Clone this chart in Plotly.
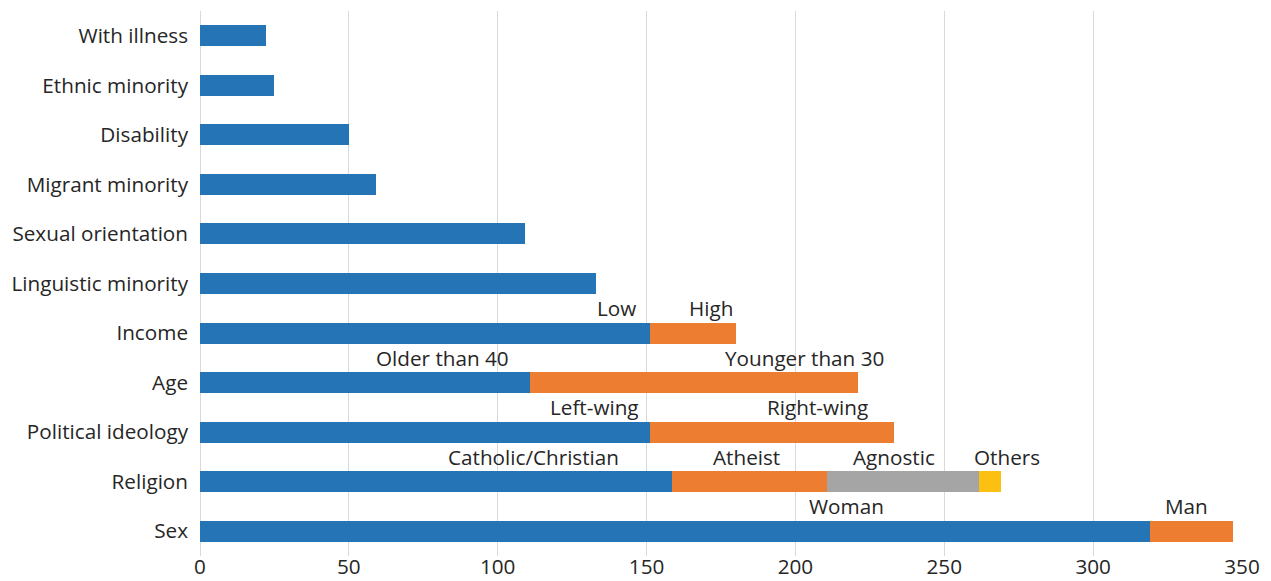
import plotly.graph_objects as go

categories = ["With illness", "Ethnic minority", "Disability", "Migrant minority",
              "Sexual orientation", "Linguistic minority", "Income", "Age",
              "Political ideology", "Religion", "Sex"]

seg1 = [22, 25, 50, 59, 109, 133, 151, 111, 151, 158.5, 319]
seg2 = [0, 0, 0, 0, 0, 0, 29, 110, 82, 52, 28]
seg3 = [0, 0, 0, 0, 0, 0, 0, 0, 0, 51, 0]
seg4 = [0, 0, 0, 0, 0, 0, 0, 0, 0, 7.5, 0]

x_ticks = [0, 50, 100, 150, 200, 250, 300, 350]

seg_labels = [
    ("Income", "Low", 140),
    ("Income", "High", 171.5),
    ("Age", "Older than 40", 81.5),
    ("Age", "Younger than 30", 203),
    ("Political ideology", "Left-wing", 132.5),
    ("Political ideology", "Right-wing", 207.5),
    ("Religion", "Catholic/Christian", 112),
    ("Religion", "Atheist", 183.5),
    ("Religion", "Agnostic", 233),
    ("Religion", "Others", 271),
    ("Sex", "Woman", 217),
    ("Sex", "Man", 331.5),
]

colors = ["#2474B6", "#ED7D31", "#A5A5A5", "#FCC012"]
FONT = "Open Sans"
FS = 20.7
TXT = "#262626"

fig = go.Figure()
for vals, col in zip([seg1, seg2, seg3, seg4], colors):
    fig.add_trace(go.Bar(y=categories, x=vals, orientation="h",
                         marker=dict(color=col, line=dict(width=0)),
                         hoverinfo="skip"))

for cat, txt, xpos in seg_labels:
    fig.add_annotation(x=xpos, y=cat, text=txt, showarrow=False,
                       yshift=25, font=dict(family=FONT, size=FS, color=TXT))

fig.update_layout(
    width=1271, height=581,
    barmode="stack", bargap=0.575,
    showlegend=False,
    plot_bgcolor="white", paper_bgcolor="white",
    margin=dict(l=200, r=29, t=11, b=25),
    font=dict(family=FONT, size=FS, color=TXT),
)
fig.update_xaxes(range=[0, 350], tickvals=x_ticks, showgrid=True,
                 gridcolor="#D9D9D9", gridwidth=1, zeroline=True,
                 zerolinecolor="#D9D9D9", zerolinewidth=1, showline=False,
                 automargin=False, ticks="", ticklabelstandoff=-4,
                 tickfont=dict(family=FONT, size=FS, color=TXT))
fig.update_yaxes(range=[len(categories) - 0.5, -0.5], showgrid=False, showline=False,
                 ticks="", ticklabelstandoff=11, automargin=False,
                 tickfont=dict(family=FONT, size=FS, color=TXT))

fig.write_html("out.html")
